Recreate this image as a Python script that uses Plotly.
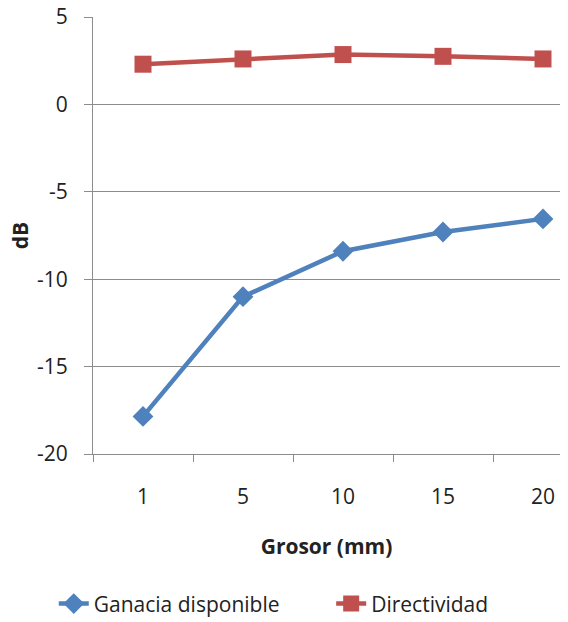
import plotly.graph_objects as go

categories = ["1", "5", "10", "15", "20"]
ganancia = [-17.85, -11.0, -8.4, -7.3, -6.55]
directividad = [2.3, 2.6, 2.85, 2.75, 2.6]
y_ticks = [-20, -15, -10, -5, 0, 5]
y_tick_text = ["-20", "-15", "-10", "-5", "0", "5"]

FONT = "Open Sans"
GRID = "#8c8c8c"
FS = 21

fig = go.Figure()
fig.add_trace(go.Scatter(
    x=categories, y=ganancia, name="Ganacia disponible", mode="lines+markers",
    line=dict(color="#4F81BD", width=4.5),
    marker=dict(symbol="diamond", size=16, color="#4F81BD"),
    legend="legend",
))
fig.add_trace(go.Scatter(
    x=categories, y=directividad, name="Directividad", mode="lines+markers",
    line=dict(color="#C0504D", width=4.5),
    marker=dict(symbol="square", size=17, color="#C0504D"),
    legend="legend2",
))

leg_common = dict(orientation="h", y=-0.343, yanchor="middle", xanchor="left",
                  font=dict(size=FS), bgcolor="rgba(0,0,0,0)")

fig.update_layout(
    width=568, height=622,
    margin=dict(l=93, r=8, t=17, b=168, autoexpand=False),
    paper_bgcolor="white", plot_bgcolor="white",
    font=dict(family=FONT, size=FS, color="#222222"),
    xaxis=dict(
        type="category", range=[-0.5, 4.17], tickson="boundaries", automargin=False,
        showgrid=False, showline=True, linecolor=GRID, linewidth=1,
        ticks="outside", ticklen=7, tickcolor=GRID,
        ticklabelstandoff=24,
        title=dict(text="<b>Grosor (mm)</b>", font=dict(size=FS), standoff=30),
    ),
    yaxis=dict(
        range=[-20, 5], tickvals=y_ticks, ticktext=y_tick_text, automargin=False,
        showgrid=True, gridcolor=GRID, gridwidth=1,
        zeroline=False, showline=True, linecolor=GRID, linewidth=1,
        ticks="outside", ticklen=8, tickcolor=GRID,
        ticklabelstandoff=12,
        title=dict(text="<b>dB</b>", font=dict(size=FS), standoff=2),
    ),
    legend=dict(x=-0.084, **leg_common),
    legend2=dict(x=0.51, **leg_common),
    showlegend=True,
)

fig.write_html("out.html")
